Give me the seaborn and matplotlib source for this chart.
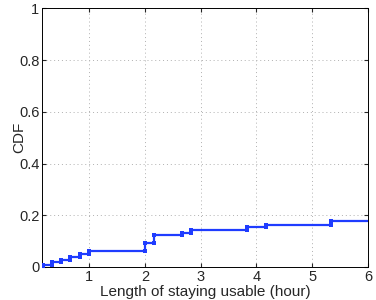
import numpy as np
import pandas as pd
import seaborn as sns
import matplotlib
matplotlib.use("Agg")
import matplotlib.pyplot as plt

# step positions (hours) and CDF level after each step
hours = [0.167, 0.333, 0.5, 0.667, 0.833, 1.0, 2.0, 2.167, 2.667, 2.833, 3.833, 4.167, 5.333]
cdf = [0.009, 0.018, 0.028, 0.038, 0.049, 0.061, 0.094, 0.125, 0.133, 0.144, 0.153, 0.164, 0.176]
x_end = 6.0

sns.set_style("ticks")
plt.rcParams['font.family'] = ['Liberation Sans', 'DejaVu Sans']

fig = plt.figure(figsize=(3.76, 3.0), dpi=100)
ax = fig.add_axes([0.112, 0.11, 0.867, 0.862])

line = pd.DataFrame({"x": hours + [x_end], "y": cdf + [cdf[-1]]})
prev = [0.0] + cdf[:-1]
marks = pd.DataFrame({"x": hours + hours, "y": prev + cdf})

blue = "#1f3cff"
sns.lineplot(data=line, x="x", y="y", ax=ax, color=blue, linewidth=1.6,
             drawstyle="steps-post", sort=False, estimator=None)
sns.scatterplot(data=marks, x="x", y="y", ax=ax, color=blue, marker="s",
                s=10, linewidth=0, zorder=3)

ax.set_xlim(0.16, 6)
ax.set_ylim(0, 1)
ax.set_xticks([1, 2, 3, 4, 5, 6])
ax.set_yticks([0, 0.2, 0.4, 0.6, 0.8, 1])
ax.set_yticklabels(["0", "0.2", "0.4", "0.6", "0.8", "1"])
ax.grid(True, linestyle=(0, (1, 3)), color="#b0b0b0", linewidth=0.7)
ax.tick_params(direction="in", length=3, labelsize=10.5, pad=2,
               top=True, right=True)
for s in ax.spines.values():
    s.set_color("black")
    s.set_linewidth(0.7)
ax.set_xlabel("Length of staying usable (hour)", fontsize=11)
ax.set_ylabel("CDF", fontsize=11)
ax.xaxis.set_label_coords(0.5, -0.07)
ax.yaxis.set_label_coords(-0.05, 0.5)

fig.savefig("out.png", dpi=100)
